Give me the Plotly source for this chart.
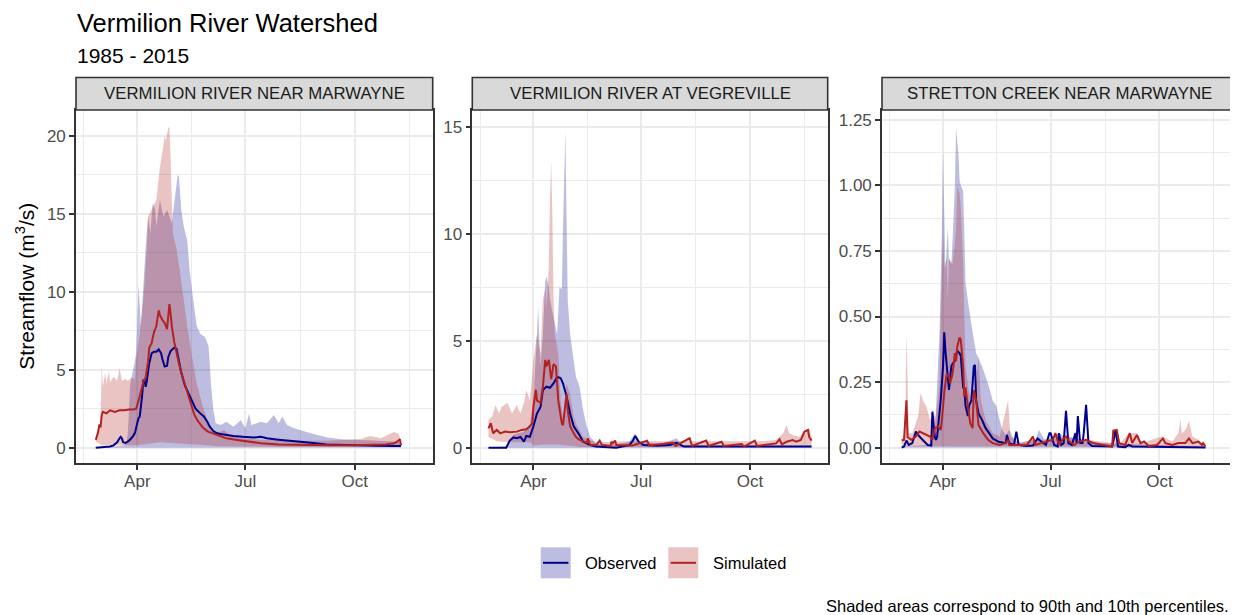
import numpy as np
import pandas as pd
import plotly.graph_objects as go

W, H = 1238, 615
OFF = 8  # page body margin
FW, FH = W - OFF, H - OFF

TITLE = "Vermilion River Watershed"
SUBTITLE = "1985 - 2015"
CAPTION = "Shaded areas correspond to 90th and 10th percentiles."
Y_TITLE = "Streamflow (m<sup>3</sup>/s)"
STATIONS = ["VERMILION RIVER NEAR MARWAYNE", "VERMILION RIVER AT VEGREVILLE",
            "STRETTON CREEK NEAR MARWAYNE"]
SERIES = ["Observed", "Simulated"]
MONTH_LABELS = ["Apr", "Jul", "Oct"]
MONTH_DOY = [91, 182, 274]
MINOR_X_DOY = [46, 136.5, 228, 320]
X_RANGE_DOY = [39.35, 339.65]

# ---------------- Vermilion River near Marwayne ----------------
MAR_OBS_DOY = [56, 60, 64, 68, 71, 74, 76, 77, 78, 79,
               81, 84, 87, 89, 91, 92, 93, 94, 95, 96,
               97, 98, 99, 101, 103, 105, 107, 109, 111, 112,
               114, 116, 117, 119, 122, 124, 126, 128, 131, 134,
               137, 140, 144, 147, 150, 152, 155, 158, 161, 166,
               172, 180, 189, 195, 200, 208, 222, 237, 250, 265,
               279, 293, 307, 313]
MAR_OBS = [0.0, 0.02, 0.05, 0.08, 0.15, 0.35, 0.6, 0.7, 0.6, 0.35,
           0.3, 0.45, 0.7, 0.95, 1.6, 1.9, 2.0, 2.6, 3.3, 4.3,
           4.35, 3.9, 4.3, 5.4, 6.05, 6.15, 6.15, 6.3, 6.05, 5.7,
           5.2, 5.25, 5.8, 6.2, 6.4, 6.35, 5.6, 4.8, 4.0, 3.5,
           2.95, 2.5, 2.2, 2.0, 1.65, 1.35, 1.07, 0.92, 0.88, 0.8,
           0.75, 0.7, 0.66, 0.7, 0.6, 0.53, 0.45, 0.32, 0.21, 0.17,
           0.13, 0.13, 0.11, 0.11]
MAR_SIM_DOY = [56, 58, 59, 60, 61, 62, 65, 68, 72, 76,
               80, 84, 88, 90, 92, 94, 96, 98, 100, 101,
               103, 105, 107, 109, 110, 112, 114, 116, 118, 119,
               120, 122, 124, 126, 128, 130, 133, 136, 139, 142,
               146, 150, 155, 160, 166, 175, 183, 195, 210, 225,
               240, 255, 270, 285, 300, 307, 310, 312, 313]
MAR_SIM = [0.5, 1.0, 1.5, 1.3, 2.1, 2.3, 2.2, 2.4, 2.3, 2.4,
           2.4, 2.45, 2.45, 2.5, 3.0, 3.6, 4.2, 4.5, 5.5, 6.4,
           6.7, 7.4, 7.8, 8.8, 8.5, 8.2, 8.0, 7.6, 9.2, 8.6,
           7.8, 6.8, 6.0, 5.4, 4.8, 4.3, 3.5, 2.8, 2.1, 1.7,
           1.3, 1.05, 0.9, 0.75, 0.6, 0.5, 0.4, 0.28, 0.2, 0.17,
           0.17, 0.15, 0.15, 0.17, 0.2, 0.28, 0.4, 0.55, 0.15]
MAR_OBS_HI_DOY = [56, 70, 80, 82, 83, 85, 88, 90, 92, 94,
                  96, 98, 100, 102, 104, 106, 107, 110, 113, 116,
                  120, 123, 125, 126, 128, 130, 133, 135, 138, 141,
                  144, 148, 151, 153, 155, 157, 161, 166, 172, 178,
                  182, 185, 187, 195, 200, 206, 210, 213, 217, 223,
                  228, 237, 251, 265, 279, 293, 307, 313]
MAR_OBS_HI = [0.05, 0.08, 0.15, 0.4, 0.9, 4.1, 5.2, 6.05, 10.5, 7.8,
              10.3, 12.9, 14.8, 13.75, 15.7, 15.25, 14.2, 15.9, 14.8, 15.25,
              14.4, 16.3, 17.5, 17.4, 15.25, 14.2, 13.3, 11.4, 9.5, 7.8,
              7.3, 7.1, 6.5, 4.1, 2.4, 1.56, 1.45, 1.67, 1.35, 1.78,
              1.24, 2.2, 1.45, 1.67, 1.56, 2.1, 1.56, 2.0, 1.45, 1.24,
              1.13, 0.92, 0.66, 0.53, 0.49, 0.45, 0.39, 0.32]
MAR_OBS_LO_DOY = [56, 313]
MAR_OBS_LO = [0.0, 0.02]
MAR_SIM_HI_DOY = [56, 58, 60, 61, 62, 64, 65, 67, 68, 71,
                  74, 76, 78, 81, 83, 86, 89, 90, 93, 96,
                  99, 100, 103, 107, 110, 112, 114, 115, 117, 118,
                  119, 120, 121, 124, 127, 130, 133, 137, 141, 147,
                  152, 158, 164, 169, 180, 195, 223, 251, 279, 287,
                  296, 307, 311, 313]
MAR_SIM_HI = [0.5, 0.92, 1.78, 5.2, 3.9, 4.8, 4.1, 4.9, 4.2, 4.55,
              4.3, 5.1, 4.3, 4.4, 4.3, 4.5, 4.4, 5.6, 7.3, 9.5,
              12.7, 14.8, 15.25, 15.9, 18.0, 18.9, 20.0, 19.7, 20.5, 20.6,
              18.5, 15.9, 13.75, 12.7, 11.2, 9.5, 7.8, 5.85, 4.1, 2.4,
              1.35, 0.92, 1.13, 0.8, 0.6, 0.5, 0.45, 0.45, 0.55, 0.75,
              0.6, 1.0, 0.9, 0.4]
MAR_SIM_LO_DOY = [56, 61, 90, 100, 110, 120, 130, 140, 150, 160, 180, 220, 260, 313]
MAR_SIM_LO = [0.4, 0.15, 0.15, 0.25, 0.35, 0.3, 0.25, 0.2, 0.15, 0.1, 0.08, 0.05, 0.05, 0.1]

# ---------------- Vermilion River at Vegreville ----------------
VEG_OBS_DOY = [53, 68, 71, 74, 77, 80, 83, 85, 88, 91,
               94, 97, 99, 102, 105, 108, 111, 114, 116, 119,
               122, 125, 129, 133, 139, 144, 161, 172, 175, 177,
               180, 184, 195, 206, 212, 218, 326]
VEG_OBS = [0.0, 0.0, 0.33, 0.48, 0.44, 0.5, 0.28, 0.55, 0.51, 1.0,
           1.6, 1.9, 2.7, 2.85, 2.8, 3.0, 3.3, 3.25, 3.0, 2.4,
           1.6, 1.0, 0.67, 0.28, 0.12, 0.05, 0.0, 0.12, 0.33, 0.55,
           0.28, 0.12, 0.09, 0.12, 0.23, 0.05, 0.05]
VEG_SIM_DOY = [53, 55, 56, 57, 60, 63, 67, 71, 77, 81,
               85, 88, 90, 91, 93, 94, 97, 99, 101, 102,
               104, 105, 106, 108, 110, 112, 115, 116, 118, 119,
               120, 122, 125, 127, 130, 133, 136, 137, 139, 144,
               147, 149, 156, 157, 158, 160, 161, 175, 187, 189,
               209, 211, 223, 225, 237, 239, 250, 252, 267, 269,
               278, 280, 296, 299, 301, 305, 310, 313, 317, 320,
               323, 324, 326]
VEG_SIM = [0.9, 1.14, 0.9, 0.67, 0.83, 0.67, 0.75, 0.72, 0.75, 0.83,
           0.86, 1.0, 1.14, 1.9, 2.7, 2.2, 2.1, 2.85, 4.1, 3.8,
           4.1, 3.6, 3.2, 3.9, 3.8, 2.2, 1.14, 1.05, 2.2, 2.5,
           1.75, 1.0, 0.67, 0.5, 0.36, 0.28, 0.23, 0.44, 0.12, 0.12,
           0.33, 0.12, 0.08, 0.28, 0.2, 0.33, 0.12, 0.1, 0.33, 0.1,
           0.23, 0.08, 0.44, 0.08, 0.33, 0.08, 0.28, 0.08, 0.17, 0.05,
           0.33, 0.08, 0.2, 0.39, 0.15, 0.28, 0.36, 0.28, 0.36, 0.75,
           0.83, 0.5, 0.33]
VEG_OBS_HI_DOY = [53, 68, 74, 83, 88, 91, 94, 95, 97, 99,
                  101, 102, 104, 105, 108, 111, 113, 115, 116, 118,
                  119, 120, 122, 125, 127, 130, 133, 136, 139, 144,
                  158, 172, 177, 181, 200, 212, 217, 257, 326]
VEG_OBS_HI = [0.02, 0.05, 0.6, 0.75, 1.1, 2.2, 5.3, 6.6, 3.8, 5.3,
              7.8, 8.0, 7.5, 6.9, 6.1, 5.3, 7.5, 7.4, 10.3, 14.8,
              10.8, 6.9, 5.3, 4.1, 3.3, 2.85, 1.75, 1.0, 0.5, 0.2,
              0.12, 0.28, 0.67, 0.28, 0.2, 0.44, 0.12, 0.08, 0.06]
VEG_OBS_LO_DOY = [53, 326]
VEG_OBS_LO = [0.0, 0.0]
VEG_SIM_HI_DOY = [53, 56, 59, 62, 64, 69, 73, 77, 80, 83,
                  85, 88, 91, 94, 97, 99, 101, 102, 104, 105,
                  106, 107, 108, 109, 112, 114, 116, 119, 122, 125,
                  128, 133, 139, 144, 173, 229, 285, 296, 302, 305,
                  307, 310, 316, 320, 324, 326]
VEG_SIM_HI = [1.3, 1.45, 2.0, 1.6, 1.9, 2.1, 1.6, 2.0, 1.6, 2.1,
              2.7, 2.2, 4.1, 5.3, 4.4, 6.9, 7.5, 6.5, 8.5, 11.6,
              13.4, 10.8, 6.9, 5.3, 4.4, 2.2, 1.45, 3.0, 2.5, 1.45,
              1.0, 0.5, 0.36, 0.25, 0.3, 0.3, 0.3, 0.36, 0.67, 1.06,
              0.67, 0.59, 0.5, 0.83, 0.9, 0.5]
VEG_SIM_LO_DOY = [53, 60, 70, 88, 92, 100, 112, 130, 326]
VEG_SIM_LO = [0.5, 0.3, 0.25, 0.25, 0.1, 0.15, 0.15, 0.03, 0.03]

# ---------------- Stretton Creek near Marwayne ----------------
STR_OBS_DOY = [56, 58, 60, 62, 65, 68, 71, 74, 78, 81,
               82, 84, 85, 86, 88, 89, 91, 92, 93, 95,
               96, 98, 99, 101, 102, 103, 105, 106, 108, 109,
               110, 112, 113, 115, 117, 118, 119, 121, 124, 127,
               130, 133, 138, 144, 145, 147, 151, 153, 155, 161,
               167, 171, 174, 178, 181, 182, 185, 188, 189, 191,
               193, 195, 197, 200, 203, 204, 205, 207, 209, 210,
               212, 214, 217, 234, 237, 239, 245, 248, 251, 313]
STR_OBS = [0.0, 0.004, 0.027, 0.01, 0.017, 0.061, 0.042, 0.029, 0.01, 0.008,
           0.137, 0.042, 0.029, 0.042, 0.118, 0.18, 0.31, 0.44, 0.37, 0.27,
           0.22, 0.31, 0.32, 0.33, 0.35, 0.37, 0.36, 0.35, 0.23, 0.22,
           0.16, 0.12, 0.16, 0.18, 0.31, 0.315, 0.18, 0.13, 0.105, 0.074,
           0.055, 0.035, 0.022, 0.017, 0.048, 0.017, 0.01, 0.061, 0.01, 0.006,
           0.008, 0.035, 0.023, 0.01, 0.055, 0.055, 0.01, 0.004, 0.055, 0.01,
           0.017, 0.14, 0.017, 0.01, 0.055, 0.017, 0.12, 0.017, 0.017, 0.055,
           0.163, 0.017, 0.006, 0.004, 0.067, 0.004, 0.001, 0.01, 0.004, 0.0]
STR_SIM_DOY = [56, 58, 60, 61, 64, 68, 71, 74, 77, 80,
               82, 84, 87, 89, 90, 92, 94, 96, 97, 99,
               101, 102, 103, 105, 106, 108, 109, 110, 112, 114,
               116, 117, 119, 121, 125, 129, 133, 139, 144, 146,
               147, 155, 162, 167, 169, 174, 184, 186, 189, 192,
               195, 198, 202, 206, 212, 218, 229, 234, 235, 238,
               240, 245, 249, 251, 255, 258, 261, 265, 272, 275,
               277, 279, 285, 290, 296, 299, 302, 307, 310, 311,
               313]
STR_SIM = [0.027, 0.03, 0.18, 0.04, 0.03, 0.042, 0.061, 0.055, 0.048, 0.042,
           0.03, 0.074, 0.08, 0.067, 0.105, 0.21, 0.28, 0.27, 0.245, 0.28,
           0.36, 0.33, 0.385, 0.42, 0.41, 0.31, 0.195, 0.23, 0.156, 0.093,
           0.074, 0.22, 0.18, 0.086, 0.055, 0.03, 0.017, 0.01, 0.017, 0.03,
           0.01, 0.01, 0.01, 0.042, 0.01, 0.017, 0.03, 0.055, 0.01, 0.03,
           0.042, 0.023, 0.01, 0.023, 0.03, 0.017, 0.01, 0.004, 0.065, 0.067,
           0.017, 0.01, 0.055, 0.017, 0.048, 0.017, 0.023, 0.006, 0.01, 0.023,
           0.035, 0.017, 0.01, 0.017, 0.017, 0.035, 0.017, 0.023, 0.01, 0.017,
           0.004]
STR_OBS_HI_DOY = [56, 80, 82, 84, 88, 90, 91, 92, 93, 95,
                  96, 98, 99, 101, 102, 104, 105, 106, 108, 109,
                  110, 112, 113, 116, 119, 122, 124, 127, 130, 133,
                  136, 138, 141, 144, 147, 150, 155, 169, 172, 177,
                  183, 189, 194, 211, 225, 313]
STR_OBS_HI = [0.005, 0.01, 0.15, 0.05, 0.44, 0.82, 1.14, 0.9, 0.67, 0.84,
              0.72, 0.7, 0.79, 1.0, 1.22, 1.12, 1.02, 1.0, 0.98, 0.82,
              0.63, 0.56, 0.53, 0.44, 0.36, 0.33, 0.31, 0.27, 0.23, 0.18,
              0.16, 0.12, 0.067, 0.048, 0.067, 0.04, 0.017, 0.03, 0.067, 0.03,
              0.042, 0.055, 0.042, 0.03, 0.017, 0.004]
STR_OBS_LO_DOY = [56, 313]
STR_OBS_LO = [0.0, 0.0]
STR_SIM_HI_DOY = [56, 59, 60, 62, 65, 70, 72, 74, 77, 80,
                  82, 85, 88, 89, 91, 92, 94, 95, 96, 99,
                  101, 102, 103, 105, 106, 108, 109, 110, 113, 116,
                  119, 121, 123, 127, 133, 139, 146, 148, 155, 167,
                  184, 195, 212, 234, 236, 238, 241, 248, 255, 259,
                  276, 285, 290, 292, 293, 296, 299, 302, 307, 313]
STR_SIM_HI = [0.03, 0.055, 0.44, 0.055, 0.055, 0.12, 0.21, 0.18, 0.156, 0.105,
              0.13, 0.118, 0.245, 0.5, 0.82, 0.69, 0.72, 0.56, 0.72, 0.7,
              0.78, 0.84, 1.0, 0.97, 0.92, 0.69, 0.5, 0.31, 0.21, 0.18,
              0.245, 0.35, 0.18, 0.105, 0.055, 0.042, 0.18, 0.042, 0.017, 0.03,
              0.03, 0.042, 0.03, 0.017, 0.067, 0.074, 0.017, 0.055, 0.055, 0.017,
              0.042, 0.023, 0.055, 0.105, 0.055, 0.067, 0.1, 0.042, 0.03, 0.004]
STR_SIM_LO_DOY = [56, 313]
STR_SIM_LO = [0.005, 0.002]

Y_TICKS = [[0, 5, 10, 15, 20], [0, 5, 10, 15], [0, 0.25, 0.5, 0.75, 1.0, 1.25]]
Y_MINOR = [[2.5, 7.5, 12.5, 17.5], [2.5, 7.5, 12.5], [0.125, 0.375, 0.625, 0.875, 1.125]]
Y_FORMAT = ["d", "d", ".2f"]
Y_RANGES = [[-1.0, 21.65], [-0.73, 15.78], [-0.06, 1.288]]

PANELS = [
    dict(obs=(MAR_OBS_DOY, MAR_OBS), sim=(MAR_SIM_DOY, MAR_SIM),
         obs_hi=(MAR_OBS_HI_DOY, MAR_OBS_HI), obs_lo=(MAR_OBS_LO_DOY, MAR_OBS_LO),
         sim_hi=(MAR_SIM_HI_DOY, MAR_SIM_HI), sim_lo=(MAR_SIM_LO_DOY, MAR_SIM_LO)),
    dict(obs=(VEG_OBS_DOY, VEG_OBS), sim=(VEG_SIM_DOY, VEG_SIM),
         obs_hi=(VEG_OBS_HI_DOY, VEG_OBS_HI), obs_lo=(VEG_OBS_LO_DOY, VEG_OBS_LO),
         sim_hi=(VEG_SIM_HI_DOY, VEG_SIM_HI), sim_lo=(VEG_SIM_LO_DOY, VEG_SIM_LO)),
    dict(obs=(STR_OBS_DOY, STR_OBS), sim=(STR_SIM_DOY, STR_SIM),
         obs_hi=(STR_OBS_HI_DOY, STR_OBS_HI), obs_lo=(STR_OBS_LO_DOY, STR_OBS_LO),
         sim_hi=(STR_SIM_HI_DOY, STR_SIM_HI), sim_lo=(STR_SIM_LO_DOY, STR_SIM_LO)),
]

# ---------------- styling / layout ----------------
FONT = "Liberation Sans, Arial, Helvetica, sans-serif"
OBS_LINE = "#00008B"
SIM_LINE = "#B22222"
OBS_FILL = "rgba(0,0,139,0.26)"
SIM_FILL = "rgba(178,34,34,0.27)"
GRID = "#EBEBEB"
DARK = "#333333"
TICKTXT = "#4D4D4D"

PANEL_X_PX = [(76, 432.7), (472.3, 827.7), (882, 1237)]
PANEL_TOP_PX, PANEL_BOT_PX = 110, 463.3
STRIP_TOP_PX = 77.5


def fx(px):
    return (px - OFF) / FW


def fy(py):
    return 1 - (py - OFF) / FH


def to_dates(doys):
    return pd.Timestamp("2001-01-01") + pd.to_timedelta(np.asarray(doys, dtype=float) - 1, unit="D")


fig = go.Figure()
shapes = []
annotations = []

for i, p in enumerate(PANELS):
    ax = "" if i == 0 else str(i + 1)
    xa, ya = "x" + ax, "y" + ax
    for key_hi, key_lo, fill in (("obs_hi", "obs_lo", OBS_FILL), ("sim_hi", "sim_lo", SIM_FILL)):
        hd, hv = p[key_hi]
        ld, lv = p[key_lo]
        xs = list(to_dates(hd)) + list(to_dates(ld))[::-1]
        ys = list(hv) + list(lv)[::-1]
        fig.add_trace(go.Scatter(x=xs, y=ys, fill="toself", fillcolor=fill, mode="none",
                                 line=dict(width=0), hoverinfo="skip", showlegend=False,
                                 xaxis=xa, yaxis=ya))
    for key, color, name in (("obs", OBS_LINE, SERIES[0]), ("sim", SIM_LINE, SERIES[1])):
        d, v = p[key]
        fig.add_trace(go.Scatter(x=to_dates(d), y=v, mode="lines", name=name,
                                 line=dict(color=color, width=2), showlegend=False,
                                 xaxis=xa, yaxis=ya))

    x0, x1 = PANEL_X_PX[i]
    xdict = dict(
        type="date", domain=[fx(x0), fx(x1)], anchor=ya,
        range=list(to_dates(X_RANGE_DOY)),
        tickmode="array", tickvals=list(to_dates(MONTH_DOY)), ticktext=MONTH_LABELS,
        ticks="outside", ticklen=5, tickwidth=1.6, tickcolor=DARK,
        ticklabelstandoff=-4,
        tickfont=dict(family=FONT, size=17, color=TICKTXT),
        showline=True, mirror=True, linecolor=DARK, linewidth=1.6,
        showgrid=True, gridcolor=GRID, gridwidth=1.8, zeroline=False,
        minor=dict(tickmode="array", tickvals=list(to_dates(MINOR_X_DOY)),
                   showgrid=True, gridcolor=GRID, gridwidth=0.9, ticks=""),
    )
    ydict = dict(
        domain=[fy(PANEL_BOT_PX), fy(PANEL_TOP_PX)], anchor=xa,
        range=Y_RANGES[i], tickmode="array", tickvals=Y_TICKS[i], tickformat=Y_FORMAT[i],
        ticks="outside", ticklen=5, tickwidth=1.6, tickcolor=DARK,
        tickfont=dict(family=FONT, size=17, color=TICKTXT),
        showline=True, mirror=True, linecolor=DARK, linewidth=1.6,
        showgrid=True, gridcolor=GRID, gridwidth=1.8, zeroline=False,
        minor=dict(tickmode="array", tickvals=Y_MINOR[i],
                   showgrid=True, gridcolor=GRID, gridwidth=0.9, ticks=""),
    )
    fig.update_layout({"xaxis" + ax: xdict, "yaxis" + ax: ydict})

    # facet strip
    shapes.append(dict(type="rect", xref="paper", yref="paper",
                       x0=fx(x0), x1=fx(x1), y0=fy(PANEL_TOP_PX), y1=fy(STRIP_TOP_PX),
                       fillcolor="#D9D9D9", line=dict(color=DARK, width=1.6), layer="above"))
    annotations.append(dict(text=STATIONS[i], xref="paper", yref="paper",
                            x=fx((x0 + x1) / 2), y=fy((PANEL_TOP_PX + STRIP_TOP_PX) / 2),
                            xanchor="center", yanchor="middle", showarrow=False,
                            font=dict(family=FONT, size=16.8, color="#1A1A1A")))

# titles
annotations += [
    dict(text=TITLE, xref="paper", yref="paper", x=fx(75), y=fy(22.8), xanchor="left",
         yanchor="middle", showarrow=False, font=dict(family=FONT, size=25.5, color="#000000")),
    dict(text=SUBTITLE, xref="paper", yref="paper", x=fx(75), y=fy(55), xanchor="left",
         yanchor="middle", showarrow=False, font=dict(family=FONT, size=21, color="#000000")),
    dict(text=Y_TITLE, xref="paper", yref="paper", x=fx(25), y=fy((PANEL_TOP_PX + PANEL_BOT_PX) / 2),
         xanchor="center", yanchor="middle", textangle=-90, showarrow=False,
         font=dict(family=FONT, size=21, color="#000000")),
    dict(text=CAPTION, xref="paper", yref="paper", x=fx(1231), y=fy(606), xanchor="right",
         yanchor="middle", showarrow=False, font=dict(family=FONT, size=16.5, color="#000000")),
]

# legend (drawn as keys + text)
LEG_KEYS_PX = [(540.7, 583.3), (668.3, 710.7)]
for (kx, tx), name, fill, col in zip(LEG_KEYS_PX, SERIES, (OBS_FILL, SIM_FILL), (OBS_LINE, SIM_LINE)):
    shapes.append(dict(type="rect", xref="paper", yref="paper", x0=fx(kx), x1=fx(kx + 30),
                       y0=fy(578.3), y1=fy(547.3), fillcolor=fill, line=dict(width=0), layer="above"))
    shapes.append(dict(type="line", xref="paper", yref="paper", x0=fx(kx + 2.3), x1=fx(kx + 27.7),
                       y0=fy(562.8), y1=fy(562.8), line=dict(color=col, width=2), layer="above"))
    annotations.append(dict(text=name, xref="paper", yref="paper", x=fx(tx), y=fy(563),
                            xanchor="left", yanchor="middle", showarrow=False,
                            font=dict(family=FONT, size=16.5, color="#000000")))

fig.update_layout(
    width=FW, height=FH, margin=dict(l=0, r=0, t=0, b=0),
    paper_bgcolor="white", plot_bgcolor="white",
    font=dict(family=FONT, color="#000000"),
    showlegend=False, shapes=shapes, annotations=annotations,
)

fig.write_html("out.html")
